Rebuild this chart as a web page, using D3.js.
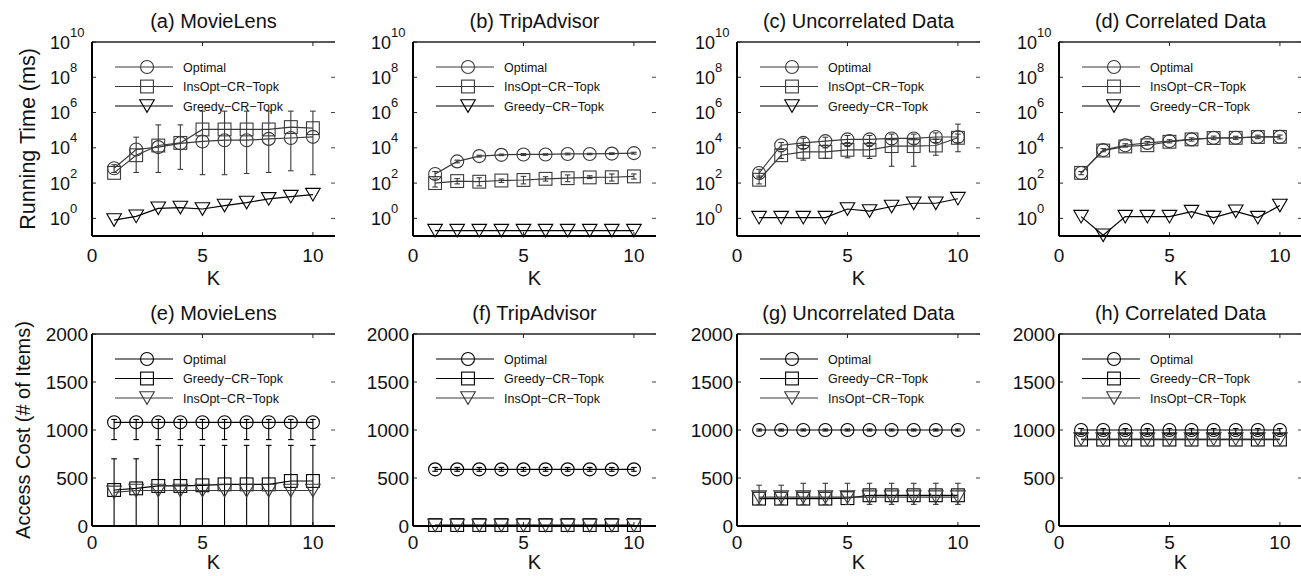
<!DOCTYPE html>
<html><head><meta charset="utf-8">
<script src="https://cdn.jsdelivr.net/npm/d3@7"></script>
<style>
body{margin:0;background:#fff}
text{font-family:"Liberation Sans",Arial,Helvetica,sans-serif;fill:#111}
</style>
</head><body>
<svg id="chart" width="1301" height="576"></svg>
<script>
// ---------- categories / ticks / labels ----------
const K = [1, 2, 3, 4, 5, 6, 7, 8, 9, 10];
const xTickValues = [0, 5, 10];
const logTickValues = [1, 1e2, 1e4, 1e6, 1e8, 1e10];
const logTickExponents = ["0", "2", "4", "6", "8", "10"];
const linTickValues = [0, 500, 1000, 1500, 2000];
const topTitles = ["(a) MovieLens", "(b) TripAdvisor", "(c) Uncorrelated Data", "(d) Correlated Data"];
const bottomTitles = ["(e) MovieLens", "(f) TripAdvisor", "(g) Uncorrelated Data", "(h) Correlated Data"];
const topSeriesNames = ["Optimal", "InsOpt\u2212CR\u2212Topk", "Greedy\u2212CR\u2212Topk"];
const bottomSeriesNames = ["Optimal", "Greedy\u2212CR\u2212Topk", "InsOpt\u2212CR\u2212Topk"];
const xLabel = "K";
const topYLabel = "Running Time (ms)";
const bottomYLabel = "Access Cost (# of Items)";

// ---------- (a) MovieLens running time ----------
const aOptMean = [700, 8000, 11000, 18000, 23000, 27000, 27000, 32000, 36000, 42000];
const aOptLo   = [400, 400, 400, 600, 300, 300, 350, 400, 500, 300];
const aOptHi   = [1100, 40000, 200000, 200000, 1200000, 1200000, 1200000, 1200000, 1200000, 1200000];
const aInsMean = [380, 3800, 13500, 19000, 110000, 110000, 110000, 110000, 150000, 130000];
const aGreMean = [0.8, 1.3, 3.7, 4.1, 3.4, 5.3, 7.9, 12.7, 17, 22];

// ---------- (b) TripAdvisor running time ----------
const bOptMean = [330, 1700, 3400, 4000, 4200, 4200, 4500, 4500, 4700, 5000];
const bOptLo   = [230, 1400, 3000, 3600, 3700, 3800, 4000, 4100, 4200, 4400];
const bOptHi   = [450, 2000, 3800, 4400, 4700, 4600, 5000, 4900, 5200, 5600];
const bInsMean = [100, 130, 120, 140, 150, 175, 190, 210, 215, 240];
const bInsLo   = [60, 90, 70, 110, 90, 130, 120, 180, 130, 170];
const bInsHi   = [170, 180, 200, 170, 240, 230, 290, 260, 330, 330];
const bGreMean = [0.2, 0.2, 0.2, 0.2, 0.2, 0.2, 0.2, 0.2, 0.2, 0.2];

// ---------- (c) Uncorrelated running time ----------
const cOptMean = [370, 14000, 19000, 24000, 30000, 30000, 34000, 34000, 41000, 41000];
const cOptLo   = [200, 8000, 9000, 10000, 12000, 12000, 15000, 16000, 20000, 6000];
const cOptHi   = [600, 20000, 35000, 40000, 50000, 50000, 60000, 60000, 70000, 220000];
const cInsMean = [155, 3800, 5900, 5900, 7700, 7700, 12500, 12500, 13500, 37000];
const cInsLo   = [90, 2500, 2000, 2500, 2700, 2500, 900, 900, 3800, 20000];
const cInsHi   = [250, 6000, 15000, 14000, 20000, 20000, 30000, 30000, 30000, 60000];
const cGreMean = [1.1, 1.1, 1.1, 1.1, 3.4, 2.6, 4.7, 7.2, 7.2, 13];

// ---------- (d) Correlated running time ----------
const dOptMean = [370, 7400, 14000, 19000, 24000, 30000, 37000, 37000, 42000, 42000];
const dOptLo   = [300, 6000, 11000, 15000, 19000, 24000, 29000, 30000, 33000, 32000];
const dOptHi   = [450, 9000, 17000, 23000, 29000, 37000, 46000, 45000, 52000, 53000];
const dInsMean = [380, 7000, 12000, 14000, 22000, 30000, 36000, 37000, 41000, 42000];
const dGreMean = [1.25, 0.11, 1.25, 1.25, 1.25, 2.4, 1.1, 2.5, 1.1, 5.3];

// ---------- (e) MovieLens access cost ----------
const eOptMean = [1080, 1080, 1080, 1080, 1080, 1080, 1080, 1080, 1080, 1080];
const eOptLo   = [900, 900, 900, 900, 900, 900, 900, 900, 900, 900];
const eOptHi   = [1110, 1110, 1110, 1110, 1110, 1110, 1110, 1110, 1110, 1110];
const eGreMean = [375, 392, 417, 417, 424, 434, 434, 434, 469, 469];
const eGreLo   = [5, 5, 5, 5, 5, 5, 5, 5, 5, 5];
const eGreHi   = [700, 700, 840, 840, 840, 840, 840, 840, 840, 840];
const eInsMean = [350, 370, 370, 370, 370, 370, 370, 370, 370, 370];

// ---------- (f) TripAdvisor access cost ----------
const fOptMean = [590, 590, 590, 590, 590, 590, 590, 590, 590, 590];
const fOptLo   = [570, 570, 570, 570, 570, 570, 570, 570, 570, 570];
const fOptHi   = [610, 610, 610, 610, 610, 610, 610, 610, 610, 610];
const fGreMean = [10, 10, 10, 10, 10, 10, 10, 10, 10, 10];
const fInsMean = [5, 5, 5, 5, 5, 5, 5, 5, 5, 5];

// ---------- (g) Uncorrelated access cost ----------
const gOptMean = [1000, 1000, 1000, 1000, 1000, 1000, 1000, 1000, 1000, 1000];
const gOptLo   = [990, 990, 990, 990, 990, 990, 990, 990, 990, 990];
const gOptHi   = [1010, 1010, 1010, 1010, 1010, 1010, 1010, 1010, 1010, 1010];
const gGreMean = [285, 285, 285, 285, 290, 320, 320, 320, 320, 320];
const gInsMean = [300, 300, 300, 300, 300, 300, 300, 300, 300, 300];
const gInsLo   = [225, 225, 225, 225, 225, 225, 225, 225, 225, 225];
const gInsHi   = [425, 425, 445, 445, 445, 445, 445, 445, 445, 445];

// ---------- (h) Correlated access cost ----------
const hOptMean = [1000, 1000, 1000, 1000, 1000, 1000, 1000, 1000, 1000, 1000];
const hOptLo   = [955, 955, 955, 955, 955, 955, 955, 955, 955, 955];
const hOptHi   = [1015, 1015, 1015, 1015, 1015, 1015, 1015, 1015, 1015, 1015];
const hGreMean = [900, 900, 900, 900, 900, 900, 900, 900, 900, 900];
const hInsMean = [905, 905, 905, 905, 905, 905, 905, 905, 905, 905];

// ---------- layout / style (not data) ----------
const panelLefts = [92, 413, 737, 1059];
const plotW = 243;
const rows = [
  {top: 42, h: 194, log: true, titles: topTitles, names: topSeriesNames, yLabel: topYLabel,
   yLabelX: 35, yLabelSize: 21.5, tickDy: 26, kDy: 49,
   colors: ["#3a3a3a", "#3a3a3a", "#000"], symbols: ["circle", "square", "triangle"],
   panels: [
     [[aOptMean, aOptLo, aOptHi], [aInsMean], [aGreMean]],
     [[bOptMean, bOptLo, bOptHi], [bInsMean, bInsLo, bInsHi], [bGreMean]],
     [[cOptMean, cOptLo, cOptHi], [cInsMean, cInsLo, cInsHi], [cGreMean]],
     [[dOptMean, dOptLo, dOptHi], [dInsMean], [dGreMean]]
   ]},
  {top: 334, h: 192, log: false, titles: bottomTitles, names: bottomSeriesNames, yLabel: bottomYLabel,
   yLabelX: 30, yLabelSize: 20, tickDy: 23, kDy: 43,
   colors: ["#000", "#000", "#3a3a3a"], symbols: ["circle", "square", "triangle"],
   panels: [
     [[eOptMean, eOptLo, eOptHi], [eGreMean, eGreLo, eGreHi], [eInsMean]],
     [[fOptMean, fOptLo, fOptHi], [fGreMean], [fInsMean]],
     [[gOptMean, gOptLo, gOptHi], [gGreMean], [gInsMean, gInsLo, gInsHi]],
     [[hOptMean, hOptLo, hOptHi], [hGreMean], [hInsMean]]
   ]}
];

const svg = d3.select("#chart");

function marker(sel, sym, color) {
  if (sym === "circle") {
    sel.append("circle").attr("r", 6.5).attr("fill", "none").attr("stroke", color).attr("stroke-width", 1.1);
  } else if (sym === "square") {
    sel.append("rect").attr("x", -6.4).attr("y", -6.4).attr("width", 12.8).attr("height", 12.8)
      .attr("fill", "none").attr("stroke", color).attr("stroke-width", 1.1);
  } else {
    sel.append("path").attr("d", "M-7.3,-6.3L7.3,-6.3L0,6.3Z")
      .attr("fill", "none").attr("stroke", color).attr("stroke-width", 1.1);
  }
}

let clipId = 0;
rows.forEach((row, ri) => {
  const cy = row.top + row.h / 2;
  svg.append("text").attr("transform", `translate(${row.yLabelX},${cy}) rotate(-90)`)
    .attr("text-anchor", "middle").attr("font-size", row.yLabelSize).text(row.yLabel);

  row.panels.forEach((series, pi) => {
    const left = panelLefts[pi];
    const g = svg.append("g").attr("transform", `translate(${left},${row.top})`);
    const x = d3.scaleLinear().domain([0, 11]).range([0, plotW]);
    const y = row.log ? d3.scaleLog().domain([0.1, 1e10]).range([row.h, 0])
                      : d3.scaleLinear().domain([0, 2000]).range([row.h, 0]);
    const yTicks = row.log ? logTickValues : linTickValues;

    const cid = "clip" + (clipId++);
    g.append("clipPath").attr("id", cid).append("rect").attr("width", plotW).attr("height", row.h);

    g.append("text").attr("x", plotW / 2).attr("y", -14).attr("text-anchor", "middle")
      .attr("font-size", 20).text(row.titles[pi]);

    g.append("line").attr("x1", 0).attr("x2", plotW).attr("y1", 0).attr("y2", 0)
      .attr("stroke", "#222").attr("stroke-width", 1.3);

    yTicks.forEach(v => {
      g.append("line").attr("x1", 0).attr("x2", 4).attr("y1", y(v)).attr("y2", y(v)).attr("stroke", "#222");
      g.append("line").attr("x1", plotW - 4).attr("x2", plotW).attr("y1", y(v)).attr("y2", y(v)).attr("stroke", "#444");
    });
    xTickValues.forEach(v => {
      g.append("line").attr("x1", x(v)).attr("x2", x(v)).attr("y1", row.h).attr("y2", row.h - 4).attr("stroke", "#222");
      g.append("line").attr("x1", x(v)).attr("x2", x(v)).attr("y1", 0).attr("y2", 4).attr("stroke", "#222");
    });

    if (row.log) {
      yTicks.forEach((v, i) => {
        const t = g.append("text").attr("x", -42).attr("y", y(v) + 6.5).attr("font-size", 18);
        t.append("tspan").text("10");
        t.append("tspan").attr("font-size", 13).attr("dy", -12).text(logTickExponents[i]);
      });
    } else {
      yTicks.forEach(v => {
        g.append("text").attr("x", -4).attr("y", y(v) + 7).attr("text-anchor", "end")
          .attr("font-size", 19).text(v);
      });
    }
    xTickValues.forEach(v => {
      g.append("text").attr("x", x(v)).attr("y", row.h + row.tickDy).attr("text-anchor", "middle")
        .attr("font-size", 19).text(v);
    });
    g.append("text").attr("x", plotW / 2).attr("y", row.h + row.kDy).attr("text-anchor", "middle")
      .attr("font-size", 20).text(xLabel);

    const line = d3.line().x((d, i) => x(K[i])).y(d => y(d));
    series.forEach((s, si) => {
      const color = row.colors[si];
      const [mean, lo, hi] = s;
      if (lo && hi) {
        const eb = g.append("g").attr("clip-path", `url(#${cid})`);
        K.forEach((k, i) => {
          const xx = x(k);
          eb.append("line").attr("x1", xx).attr("x2", xx).attr("y1", y(lo[i])).attr("y2", y(hi[i]))
            .attr("stroke", color).attr("stroke-width", 1.1);
          [lo[i], hi[i]].forEach(v => {
            eb.append("line").attr("x1", xx - 2.8).attr("x2", xx + 2.8).attr("y1", y(v)).attr("y2", y(v))
              .attr("stroke", color).attr("stroke-width", 1.1);
          });
        });
      }
      g.append("path").attr("clip-path", `url(#${cid})`).attr("d", line(mean))
        .attr("fill", "none").attr("stroke", color).attr("stroke-width", 1.2);
      K.forEach((k, i) => {
        const m = g.append("g").attr("transform", `translate(${x(k)},${y(mean[i])})`);
        marker(m, row.symbols[si], color);
      });
    });

    g.append("line").attr("x1", 0).attr("x2", 0).attr("y1", 0).attr("y2", row.h)
      .attr("stroke", "#000").attr("stroke-width", 2);
    g.append("line").attr("x1", 0).attr("x2", plotW).attr("y1", row.h).attr("y2", row.h)
      .attr("stroke", "#000").attr("stroke-width", 2);

    const lg = g.append("g");
    row.names.forEach((name, si) => {
      const ly = [25, 44.5, 64][si];
      const color = row.colors[si];
      lg.append("line").attr("x1", 23).attr("x2", 81).attr("y1", ly).attr("y2", ly)
        .attr("stroke", color).attr("stroke-width", 1.1);
      const m = lg.append("g").attr("transform", `translate(55,${ly})`);
      marker(m, row.symbols[si], color);
      lg.append("text").attr("x", 91).attr("y", ly + 4.5).attr("font-size", 12.5).attr("fill", "#222").text(name);
    });
  });
});
</script>
</body></html>
